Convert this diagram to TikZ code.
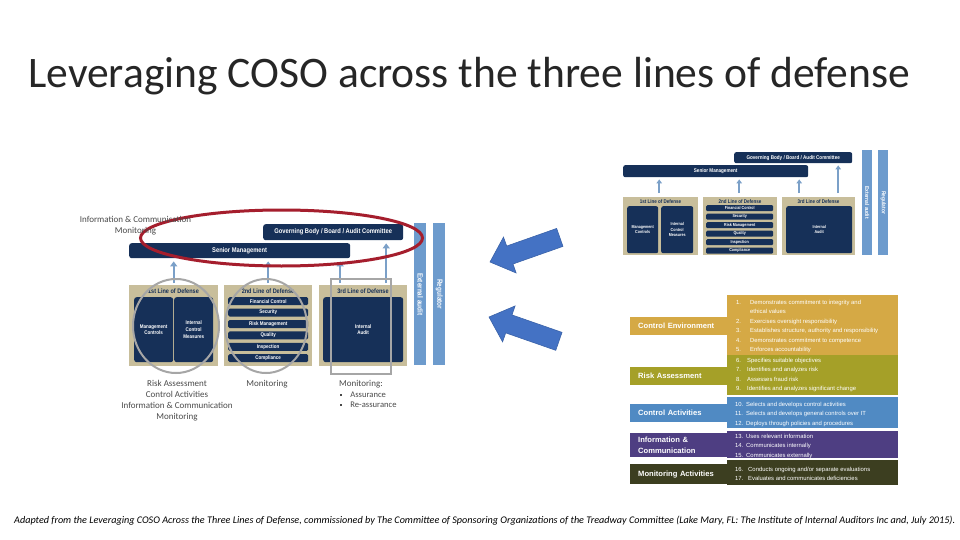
\documentclass[tikz,border=0pt]{standalone}
\usepackage{fontspec}
\setmainfont{Carlito}
\newfontfamily\cond[FakeStretch=0.85]{Liberation Sans}
\newfontfamily\arialf{Liberation Sans}
\usetikzlibrary{arrows.meta}
\definecolor{navy}{HTML}{163058}
\definecolor{tanc}{HTML}{C8BE9B}
\definecolor{barblue}{HTML}{6D9BCD}
\definecolor{arrblue}{HTML}{7BA0C8}
\definecolor{grayring}{HTML}{A6A6A6}
\definecolor{redring}{HTML}{A51E2D}
\definecolor{notegray}{HTML}{4A4A4A}
\definecolor{cec}{HTML}{D5A945}
\definecolor{rac}{HTML}{A5A028}
\definecolor{cac}{HTML}{508AC3}
\definecolor{icc}{HTML}{4E3E82}
\definecolor{mac}{HTML}{3C3E20}
\definecolor{bigarrow}{HTML}{4472C4}
\definecolor{bigarrowdark}{HTML}{3A62A8}
\newcommand\fs[2]{\fontsize{#1}{#2}\selectfont}
\newcommand\bx[7]{\node[#6, minimum width=#4pt, minimum height=#5pt] (#1) at (#2,#3) {#7};}
\newcommand\sq{\raisebox{1.6pt}{\rule{2.2pt}{2.2pt}}}
\begin{document}
\begin{tikzpicture}[x=1pt,y=-1pt,
  nbox/.style={fill=navy, rounded corners=2.5pt, text=white, align=center, inner sep=0pt, anchor=north west},
  tbox/.style={fill=tanc, inner sep=0pt, anchor=north west},
  vbar/.style={fill=barblue, inner sep=0pt, anchor=north west},
  vtext/.style={rotate=-90, text=white, inner sep=0pt},
  ltitle/.style={text=navy, inner sep=0pt},
  upar/.style={draw=arrblue, line width=2pt, shorten >=3pt, -{Triangle[length=5pt,width=7pt]}},
  supar/.style={draw=arrblue, line width=1.5pt, shorten >=2pt, -{Triangle[length=4pt,width=5.5pt]}},
  ring/.style={draw=grayring, line width=2pt},
  note/.style={text=notegray, inner sep=0pt},
  lab/.style={inner sep=0pt, anchor=north west, text=white, align=left, font=\arialf\bfseries\fs{7.6}{10.5}},
  ltxt/.style={inner sep=0pt, anchor=north west, text=white, font=\arialf\fs{5.9}{9.5}}
]
\useasboundingbox (0,0) rectangle (960,540);
\fill[white] (0,0) rectangle (960,540);

% title
\node[anchor=base west, inner sep=0pt, text=black!85] (title) at (28,88)
  {\resizebox{882pt}{!}{\fs{40}{40}Leveraging COSO across the three lines of defense}};

% ================= LEFT DIAGRAM =================
\bx{ext}{414}{223}{12}{142}{vbar}{}
\bx{reg}{433}{223}{12}{142}{vbar}{}
\node[vtext, font=\cond\bfseries\fs{7.5}{8}] (extt) at (ext.center) {External audit};
\node[vtext, font=\cond\bfseries\fs{7.5}{8}] (regt) at (reg.center) {Regulator};

\bx{gov}{263}{224}{140}{16}{nbox, font=\cond\bfseries\fs{6.8}{8}}{Governing Body / Board / Audit Committee}
\bx{sm}{129}{243}{221}{15}{nbox, font=\cond\bfseries\fs{6.8}{8}}{Senior Management}

\bx{l1}{129}{285}{89}{81}{tbox}{}
\bx{l2}{224}{285}{88}{81}{tbox}{}
\bx{l3}{319}{285}{88}{81}{tbox}{}
\node[ltitle, font=\cond\bfseries\fs{6.5}{7}] (l1t) at (173.5,291.5) {1st Line of Defense};
\node[ltitle, font=\cond\bfseries\fs{6.5}{7}] (l2t) at (268,291.5) {2nd Line of Defense};
\node[ltitle, font=\cond\bfseries\fs{6.5}{7}] (l3t) at (363,291.5) {3rd Line of Defense};

\bx{mc}{134}{297}{39}{65}{nbox, font=\cond\bfseries\fs{5.3}{6.6}}{Management\\Controls}
\bx{icm}{174}{297}{39}{65}{nbox, font=\cond\bfseries\fs{5.3}{6.6}}{Internal\\Control\\Measures}
\bx{b1}{228}{297}{80}{8}{nbox, rounded corners=1.5pt, font=\cond\bfseries\fs{5.3}{6}}{Financial Control}
\bx{b2}{228}{308.4}{80}{8}{nbox, rounded corners=1.5pt, font=\cond\bfseries\fs{5.3}{6}}{Security}
\bx{b3}{228}{319.8}{80}{8}{nbox, rounded corners=1.5pt, font=\cond\bfseries\fs{5.3}{6}}{Risk Management}
\bx{b4}{228}{331.2}{80}{8}{nbox, rounded corners=1.5pt, font=\cond\bfseries\fs{5.3}{6}}{Quality}
\bx{b5}{228}{342.6}{80}{8}{nbox, rounded corners=1.5pt, font=\cond\bfseries\fs{5.3}{6}}{Inspection}
\bx{b6}{228}{354}{80}{8}{nbox, rounded corners=1.5pt, font=\cond\bfseries\fs{5.3}{6}}{Compliance}
\bx{ia}{323}{297}{80}{65}{nbox, font=\cond\bfseries\fs{5.3}{6.6}}{Internal\\Audit}

\draw[upar] ([yshift=2pt]l1.north) -- (l1.north |- sm.south);
\draw[upar] ([yshift=2pt]l2.north) -- (l2.north |- sm.south);
\draw[upar] ([xshift=-23pt,yshift=2pt]l3.north) -- ([xshift=-23pt]l3.north |- sm.south);
\draw[upar] ([xshift=23pt,yshift=2pt]l3.north) -- ([xshift=23pt]l3.north |- gov.south);

% grey highlights
\draw[ring] (176,326) ellipse [x radius=43pt, y radius=47pt];
\draw[ring] (266,326) ellipse [x radius=41pt, y radius=47pt];
\draw[ring] (331,279) rectangle (391,374);
% red ring
\draw[draw=redring, line width=3pt] (281.5,238) ellipse [x radius=141pt, y radius=28pt];

% notes
\node[note, align=center, font=\fs{9}{11}] (topnote) at (135.5,225.5) {Information \& Communication\\Monitoring};
\node[note, align=center, font=\fs{9}{11}] (n1) at (177,400.5) {Risk Assessment\\Control Activities\\Information \& Communication\\Monitoring};
\node[note, font=\fs{9}{11}] (n2) at (267,384) {Monitoring};
\node[note, anchor=west, font=\fs{9}{11}] (n3) at (339,384) {Monitoring:};
\node[note, anchor=west, font=\fs{8.6}{11}] (n4) at (340,395) {\sq\hspace{8pt}Assurance};
\node[note, anchor=west, font=\fs{8.6}{11}] (n5) at (340,405) {\sq\hspace{8pt}Re-assurance};

% ================= RIGHT SMALL DIAGRAM =================
\bx{sext}{862}{150}{10}{105}{vbar}{}
\bx{sreg}{878}{150}{10}{105}{vbar}{}
\node[vtext, font=\cond\bfseries\fs{5.7}{6}] (sextt) at (sext.center) {External audit};
\node[vtext, font=\cond\bfseries\fs{5.7}{6}] (sregt) at (sreg.center) {Regulator};
\bx{sgov}{734}{152}{118}{11}{nbox, rounded corners=2pt, font=\cond\bfseries\fs{5.4}{6}}{Governing Body / Board / Audit Committee}
\bx{ssm}{623}{165}{185}{12}{nbox, rounded corners=2pt, font=\cond\bfseries\fs{5.4}{6}}{Senior Management}
\bx{sl1}{623}{197}{75}{58}{tbox}{}
\bx{sl2}{703}{197}{74}{58}{tbox}{}
\bx{sl3}{782}{197}{73}{58}{tbox}{}
\node[ltitle, font=\cond\bfseries\fs{5.3}{6}] (sl1t) at (660.5,201.5) {1st Line of Defense};
\node[ltitle, font=\cond\bfseries\fs{5.3}{6}] (sl2t) at (740,201.5) {2nd Line of Defense};
\node[ltitle, font=\cond\bfseries\fs{5.3}{6}] (sl3t) at (818.5,201.5) {3rd Line of Defense};
\bx{smc}{627}{206}{31}{47}{nbox, rounded corners=2pt, font=\cond\bfseries\fs{4.3}{5.4}}{Management\\Controls}
\bx{sicm}{661}{206}{32}{47}{nbox, rounded corners=2pt, font=\cond\bfseries\fs{4.3}{5.4}}{Internal\\Control\\Measures}
\bx{sb1}{706}{205}{67}{6}{nbox, rounded corners=1.2pt, font=\cond\bfseries\fs{4.3}{5}}{Financial Control}
\bx{sb2}{706}{213.5}{67}{6}{nbox, rounded corners=1.2pt, font=\cond\bfseries\fs{4.3}{5}}{Security}
\bx{sb3}{706}{222}{67}{6}{nbox, rounded corners=1.2pt, font=\cond\bfseries\fs{4.3}{5}}{Risk Management}
\bx{sb4}{706}{230.5}{67}{6}{nbox, rounded corners=1.2pt, font=\cond\bfseries\fs{4.3}{5}}{Quality}
\bx{sb5}{706}{239}{67}{6}{nbox, rounded corners=1.2pt, font=\cond\bfseries\fs{4.3}{5}}{Inspection}
\bx{sb6}{706}{247.5}{67}{6}{nbox, rounded corners=1.2pt, font=\cond\bfseries\fs{4.3}{5}}{Compliance}
\bx{sia}{786}{206}{66}{47}{nbox, rounded corners=2pt, font=\cond\bfseries\fs{4.3}{5.4}}{Internal\\Audit}
\draw[supar] ([xshift=-1.5pt,yshift=4pt]sl1.north) -- ([xshift=-1.5pt]sl1.north |- ssm.south);
\draw[supar] ([xshift=-1pt,yshift=4pt]sl2.north) -- ([xshift=-1pt]sl2.north |- ssm.south);
\draw[supar] ([xshift=-19.5pt,yshift=4pt]sl3.north) -- ([xshift=-19.5pt]sl3.north |- ssm.south);
\draw[supar] ([xshift=19.5pt,yshift=4pt]sl3.north) -- ([xshift=19.5pt]sl3.north |- sgov.south);

% ================= COSO TABLE =================
\fill[cec] (727,295) rectangle (898,355);
\fill[rac] (727,355) rectangle (898,395);
\fill[cac] (727,397) rectangle (898,428);
\fill[icc] (727,431) rectangle (898,458);
\fill[mac] (727,460) rectangle (898,485);
\node[lab, fill=cec, minimum width=97pt, minimum height=18pt, text width=89pt, inner xsep=8pt] (ce) at (630,317) {Control Environment};
\node[lab, fill=rac, minimum width=97pt, minimum height=18pt, text width=89pt, inner xsep=8pt] (ra) at (630,367) {Risk Assessment};
\node[lab, fill=cac, minimum width=97pt, minimum height=18pt, text width=89pt, inner xsep=8pt] (ca) at (630,404) {Control Activities};
\node[lab, fill=icc, minimum width=97pt, minimum height=24pt, text width=89pt, inner xsep=8pt] (ic) at (630,433) {Information \&\\Communication};
\node[lab, fill=mac, minimum width=97pt, minimum height=20pt, text width=89pt, inner xsep=8pt] (ma) at (630,464) {Monitoring Activities};

\node[ltxt] (cel) at (736,297.5) {\begin{tabular}{@{}p{14pt}@{}l@{}}
1. & Demonstrates commitment to integrity and\\
   & ethical values\\
2. & Exercises oversight responsibility\\
3. & Establishes structure, authority and responsibility\\
4. & Demonstrates commitment to competence\\
5. & Enforces accountability
\end{tabular}};
\node[ltxt] (ral) at (736,355.5) {\begin{tabular}{@{}p{11pt}@{}l@{}}
6. & Specifies suitable objectives\\
7. & Identifies and analyzes risk\\
8. & Assesses fraud risk\\
9. & Identifies and analyzes significant change
\end{tabular}};
\node[ltxt] (cal) at (735,399.5) {\begin{tabular}{@{}p{11pt}@{}l@{}}
10. & Selects and develops control activities\\
11. & Selects and develops general controls over IT\\
12. & Deploys through policies and procedures
\end{tabular}};
\node[ltxt] (icl) at (735,431.5) {\begin{tabular}{@{}p{11pt}@{}l@{}}
13. & Uses relevant information\\
14. & Communicates internally\\
15. & Communicates externally
\end{tabular}};
\node[ltxt] (mal) at (735,464.5) {\begin{tabular}{@{}p{13pt}@{}l@{}}
16. & Conducts ongoing and/or separate evaluations\\
17. & Evaluates and communicates deficiencies
\end{tabular}};

% ================= BIG ARROWS =================
\begin{scope}[shift={(490,262)}, rotate=19.4]
\filldraw[fill=bigarrow, draw=bigarrowdark, line width=0.6pt, line join=miter]
  (0,0) -- (21,-19) -- (21,-9.5) -- (74,-9.5) -- (74,9.5) -- (21,9.5) -- (21,19) -- cycle;
\end{scope}
\begin{scope}[shift={(489,317)}, rotate=-19.2]
\filldraw[fill=bigarrow, draw=bigarrowdark, line width=0.6pt, line join=miter]
  (0,0) -- (21,-19) -- (21,-9.5) -- (74,-9.5) -- (74,9.5) -- (21,9.5) -- (21,19) -- cycle;
\end{scope}

% footer
\node[anchor=west, inner sep=0pt, text=black] (foot) at (14,521)
  {\resizebox{941pt}{!}{\itshape\fs{10}{12}Adapted from the Leveraging COSO Across the Three Lines of Defense, commissioned by The Committee of Sponsoring Organizations of the Treadway Committee (Lake Mary, FL: The Institute of Internal Auditors Inc and, July 2015).}};
\end{tikzpicture}
\end{document}
